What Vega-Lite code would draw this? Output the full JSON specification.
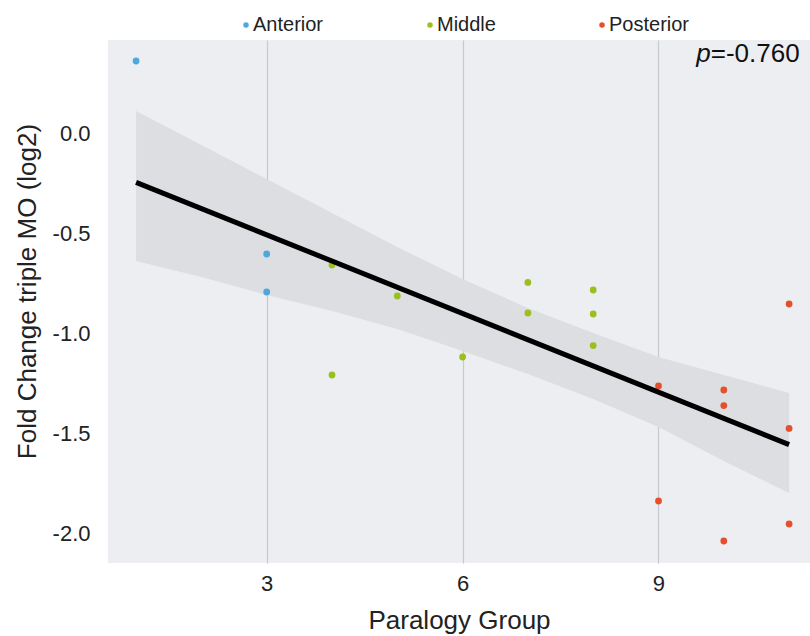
{
  "$schema": "https://vega.github.io/schema/vega-lite/v6.json",
  "width": 702,
  "height": 523,
  "autosize": {"type": "none"},
  "padding": {"left": 108, "top": 40, "right": 0, "bottom": 73},
  "background": "white",
  "config": {
    "font": "Liberation Sans",
    "view": {"fill": "#eceef1", "stroke": null},
    "axis": {"domain": false, "ticks": false, "labelFont": "Liberation Sans", "titleFont": "Liberation Sans", "labelColor": "#222222", "titleColor": "#222222", "titleFontWeight": "normal"}
  },
  "datasets": {
    "pts": [
      {"group": 1, "fc": 0.36, "region": "Anterior"},
      {"group": 3, "fc": -0.605, "region": "Anterior"},
      {"group": 3, "fc": -0.795, "region": "Anterior"},
      {"group": 4, "fc": -0.66, "region": "Middle"},
      {"group": 4, "fc": -1.21, "region": "Middle"},
      {"group": 5, "fc": -0.815, "region": "Middle"},
      {"group": 6, "fc": -1.12, "region": "Middle"},
      {"group": 7, "fc": -0.747, "region": "Middle"},
      {"group": 7, "fc": -0.9, "region": "Middle"},
      {"group": 8, "fc": -0.785, "region": "Middle"},
      {"group": 8, "fc": -0.905, "region": "Middle"},
      {"group": 8, "fc": -1.063, "region": "Middle"},
      {"group": 9, "fc": -1.265, "region": "Posterior"},
      {"group": 9, "fc": -1.84, "region": "Posterior"},
      {"group": 10, "fc": -1.285, "region": "Posterior"},
      {"group": 10, "fc": -1.363, "region": "Posterior"},
      {"group": 10, "fc": -2.04, "region": "Posterior"},
      {"group": 11, "fc": -0.855, "region": "Posterior"},
      {"group": 11, "fc": -1.477, "region": "Posterior"},
      {"group": 11, "fc": -1.955, "region": "Posterior"}
    ],
    "band": [
      {"group": 1, "hi": 0.11, "lo": -0.64},
      {"group": 2, "hi": -0.06, "lo": -0.72},
      {"group": 3, "hi": -0.23, "lo": -0.81},
      {"group": 4, "hi": -0.4, "lo": -0.89},
      {"group": 5, "hi": -0.57, "lo": -0.98},
      {"group": 6, "hi": -0.73, "lo": -1.09},
      {"group": 7, "hi": -0.875, "lo": -1.205},
      {"group": 8, "hi": -1.0, "lo": -1.33},
      {"group": 9, "hi": -1.12, "lo": -1.47},
      {"group": 10, "hi": -1.21, "lo": -1.64},
      {"group": 11, "hi": -1.3, "lo": -1.8}
    ],
    "ann": [
      {"sym": "p", "val": "=-0.760"}
    ]
  },
  "layer": [
    {
      "data": {"name": "band"},
      "mark": {"type": "area", "color": "#dcdee1", "opacity": 1},
      "encoding": {
        "x": {
          "field": "group", "type": "quantitative", "title": "Paralogy Group",
          "scale": {"domain": [0.57, 11.32], "nice": false, "zero": false},
          "axis": {"values": [3, 6, 9], "format": "d", "grid": true, "gridColor": "#c6c9cd", "gridWidth": 1.2, "labelFontSize": 22, "titleFontSize": 26, "labelPadding": 10, "titlePadding": 13}
        },
        "y": {
          "field": "hi", "type": "quantitative", "title": "Fold Change triple MO (log2)",
          "scale": {"domain": [-2.15, 0.465], "nice": false, "zero": false},
          "axis": {"values": [-2, -1.5, -1, -0.5, 0], "labelExpr": "replace(format(datum.value, '.1f'), '\u2212', '-')", "grid": false, "labelFontSize": 22, "titleFontSize": 26, "labelPadding": 18, "titlePadding": 12, "titleY": 251}
        },
        "y2": {"field": "lo"}
      }
    },
    {
      "data": {"name": "pts"},
      "mark": {"type": "circle", "size": 46, "opacity": 1},
      "encoding": {
        "x": {"field": "group", "type": "quantitative"},
        "y": {"field": "fc", "type": "quantitative"},
        "color": {
          "field": "region", "type": "nominal",
          "scale": {"domain": ["Anterior", "Middle", "Posterior"], "range": ["#4ea8dd", "#9bbf1e", "#e4502c"]},
          "legend": {
            "title": null, "orient": "none", "direction": "horizontal", "columns": 3,
            "legendX": 128, "legendY": -25, "padding": 0,
            "symbolType": "circle", "symbolSize": 30, "symbolStrokeWidth": 0,
            "labelFontSize": 20, "labelFont": "Liberation Sans", "labelColor": "#222222", "labelOffset": -3,
            "columnPadding": 96
          }
        }
      }
    },
    {
      "data": {"name": "pts"},
      "transform": [{"regression": "fc", "on": "group"}],
      "mark": {"type": "line", "color": "black", "strokeWidth": 5},
      "encoding": {
        "x": {"field": "group", "type": "quantitative"},
        "y": {"field": "fc", "type": "quantitative"}
      }
    },
    {
      "data": {"name": "ann"},
      "mark": {"type": "text", "fontStyle": "italic", "fontSize": 26, "align": "right", "baseline": "alphabetic", "color": "#111111"},
      "encoding": {
        "x": {"datum": 9.8, "type": "quantitative"},
        "y": {"datum": 0.355, "type": "quantitative"},
        "text": {"field": "sym", "type": "nominal"}
      }
    },
    {
      "data": {"name": "ann"},
      "mark": {"type": "text", "fontSize": 26, "align": "left", "baseline": "alphabetic", "color": "#111111"},
      "encoding": {
        "x": {"datum": 9.8, "type": "quantitative"},
        "y": {"datum": 0.355, "type": "quantitative"},
        "text": {"field": "val", "type": "nominal"}
      }
    }
  ]
}
